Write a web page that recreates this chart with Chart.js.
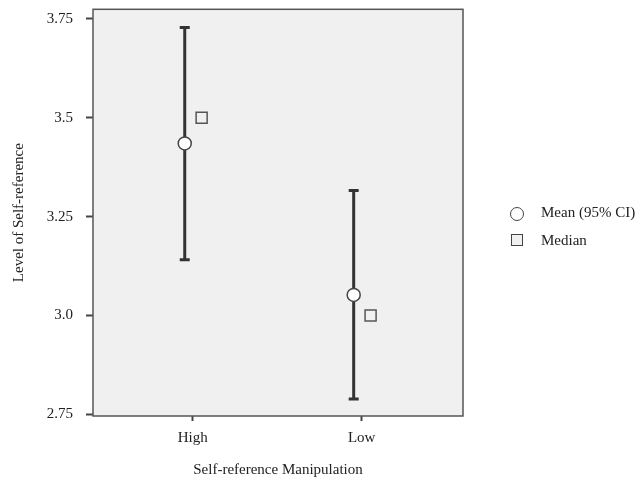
<!DOCTYPE html>
<html>
<head>
<meta charset="utf-8">
<script src="https://cdn.jsdelivr.net/npm/chart.js@4"></script>
<style>
  body { margin: 0; background: #fff; }
  #wrap { position: relative; width: 635px; height: 479px; }
  #legend { position: absolute; left: 510px; top: 202px; font: 15px "Liberation Serif", serif; color: #222; }
  #legend div { height: 28px; line-height: 20px; white-space: nowrap; }
  .sym { display: inline-block; vertical-align: middle; margin-right: 17px; box-sizing: border-box; border: 1.5px solid #444; }
  .circ { width: 14px; height: 14px; border-radius: 50%; background: #fff; }
  .sq { width: 12px; height: 12px; background: #f0f0f0; margin-left: 1px; margin-right: 18px; position: relative; top: -2px; }
</style>
</head>
<body>
<div id="wrap">
  <canvas id="grafico" width="635" height="479"></canvas>
  <div id="legend">
    <div><span class="sym circ"></span>Mean (95% CI)</div>
    <div><span class="sym sq"></span>Median</div>
  </div>
</div>
<script>
document.addEventListener('DOMContentLoaded', function() {
    // Datos
    const categorias = ['High', 'Low'];
    const medias = [3.435, 3.052];
    const ciInferior = [3.141, 2.789];
    const ciSuperior = [3.728, 3.316];
    const medianas = [3.5, 3.0];
    const ticksY = [2.75, 3.0, 3.25, 3.5, 3.75];
    const etiquetasY = ['2.75', '3.0', '3.25', '3.5', '3.75'];

    const desplMedia = -0.047;   // el IC va un poco a la izquierda
    const desplMediana = 0.053;  // la mediana un poco a la derecha
    const fuente = { family: '"Liberation Serif", serif', size: 15 };

    const fondoArea = {
        id: 'fondoArea',
        beforeDraw(chart) {
            const a = chart.chartArea, ctx = chart.ctx;
            ctx.save();
            ctx.fillStyle = '#f0f0f0';
            ctx.fillRect(a.left, a.top, a.right - a.left, a.bottom - a.top);
            ctx.restore();
        },
        afterDraw(chart) {
            const a = chart.chartArea, ctx = chart.ctx;
            ctx.save();
            ctx.strokeStyle = '#555';
            ctx.lineWidth = 1.5;
            ctx.strokeRect(a.left, a.top, a.right - a.left, a.bottom - a.top);
            ctx.restore();
        }
    };

    const barrasError = categorias.map(function(c, i) {
        return {
            label: 'IC ' + c,
            data: [{ x: i + 1 + desplMedia, y: ciInferior[i] }, { x: i + 1 + desplMedia, y: ciSuperior[i] }],
            showLine: true,
            borderColor: '#333',
            borderWidth: 3,
            pointStyle: 'line',
            pointRadius: 5,
            pointBorderWidth: 3,
            pointBorderColor: '#333',
            order: 3
        };
    });

    new Chart(document.getElementById('grafico'), {
        type: 'scatter',
        data: {
            datasets: [
                {
                    label: 'Mean (95% CI)',
                    data: medias.map((v, i) => ({ x: i + 1 + desplMedia, y: v })),
                    pointStyle: 'circle',
                    pointRadius: 6.5,
                    backgroundColor: '#fff',
                    borderColor: '#444',
                    borderWidth: 1.5,
                    order: 1
                },
                {
                    label: 'Median',
                    data: medianas.map((v, i) => ({ x: i + 1 + desplMediana, y: v })),
                    pointStyle: 'rect',
                    pointRadius: 7.8,
                    backgroundColor: '#f0f0f0',
                    borderColor: '#555',
                    borderWidth: 1.5,
                    order: 2
                }
            ].concat(barrasError)
        },
        options: {
            responsive: false,
            animation: false,
            layout: { padding: { top: 7, right: 172, left: 0, bottom: 0 } },
            plugins: { legend: { display: false }, tooltip: { enabled: false } },
            scales: {
                x: {
                    type: 'linear',
                    min: 0.41,
                    max: 2.6,
                    afterBuildTicks(s) { s.ticks = categorias.map((c, i) => ({ value: i + 1 })); },
                    afterFit(s) { s.height = 63; s.paddingLeft = 0; s.paddingRight = 0; },
                    ticks: { callback: v => categorias[v - 1], font: fuente, color: '#222', padding: 8, maxRotation: 0 },
                    grid: { drawOnChartArea: false, tickLength: 5, tickWidth: 2, tickColor: '#444' },
                    border: { display: false },
                    title: { display: true, text: 'Self-reference Manipulation', font: fuente, color: '#222', padding: { top: 10, bottom: 0 } }
                },
                y: {
                    min: 2.746,
                    max: 3.774,
                    afterBuildTicks(s) { s.ticks = ticksY.map(v => ({ value: v })); },
                    afterFit(s) { s.width = 93; s.paddingTop = 0; s.paddingBottom = 0; },
                    ticks: { callback: (v, i) => etiquetasY[i], font: fuente, color: '#222', padding: 13 },
                    grid: { drawOnChartArea: false, tickLength: 7, tickWidth: 2, tickColor: '#444' },
                    border: { display: false },
                    title: { display: true, text: 'Level of Self-reference', font: fuente, color: '#222', padding: { top: 10, bottom: 0 } }
                }
            }
        },
        plugins: [fondoArea]
    });
});
</script>
</body>
</html>
